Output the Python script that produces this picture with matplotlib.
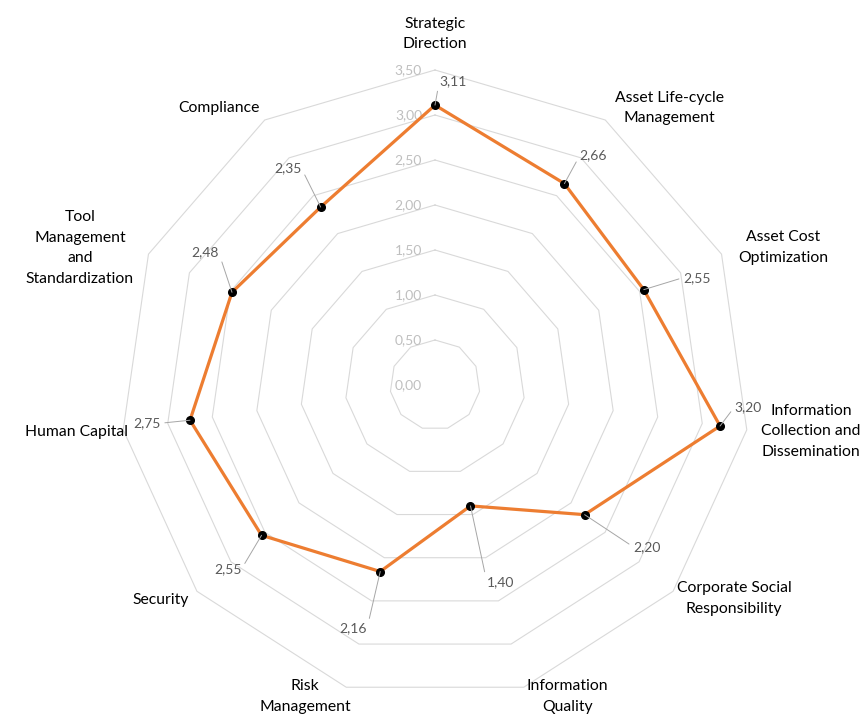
import numpy as np
import matplotlib
matplotlib.use("Agg")
import matplotlib.pyplot as plt

plt.rcParams['font.family'] = ['Lato', 'DejaVu Sans']

# ---- data ----
categories = ["Strategic\nDirection", "Asset Life-cycle\nManagement", "Asset Cost\nOptimization",
              "Information\nCollection and\nDissemination", "Corporate Social\nResponsibility",
              "Information\nQuality", "Risk\nManagement", "Security", "Human Capital",
              "Tool\nManagement\nand\nStandardization", "Compliance"]
values = [3.11, 2.66, 2.55, 3.20, 2.20, 1.40, 2.16, 2.55, 2.75, 2.48, 2.35]
ring_levels = [0.5, 1.0, 1.5, 2.0, 2.5, 3.0, 3.5]
tick_values = [0.0, 0.5, 1.0, 1.5, 2.0, 2.5, 3.0, 3.5]
tick_labels = ["0,00", "0,50", "1,00", "1,50", "2,00", "2,50", "3,00", "3,50"]

# ---- layout (category label placement: angle in degrees, radius in data units) ----
cat_label_pos = [(0.0, 3.90), (40.2, 4.03), (68.5, 4.16), (97.0, 4.21), (125.5, 4.08),
                 (156.9, 3.76), (202.6, 3.75), (231.9, 3.87), (262.5, 4.02), (291.1, 4.23),
                 (322.1, 3.90)]
# value label offsets in pixels (dx right, dy down)
val_offsets = [(18, -24), (29, -28), (53, -12), (28, -19), (62, 32), (30, 76),
               (-27, 57), (-34, 34), (-43, 3), (-27, -40), (-33, -39)]

W, H = 860, 717
fig = plt.figure(figsize=(W / 100, H / 100), dpi=100)
cx, cy, R = 435, 385, 315
ax = fig.add_axes([(cx - R) / W, (H - cy - R) / H, 2 * R / W, 2 * R / H], projection='polar')
ax.set_theta_zero_location('N')
ax.set_theta_direction(-1)
ax.set_ylim(0, 3.5)
ax.grid(False)
ax.spines['polar'].set_visible(False)
ax.set_xticks([])
ax.set_yticks([])
ax.patch.set_alpha(0)

n = len(categories)
angles = np.linspace(0, 2 * np.pi, n, endpoint=False)
closed = np.concatenate([angles, angles[:1]])

for lv in ring_levels:
    ax.plot(closed, [lv] * (n + 1), color='#D9D9D9', lw=0.8, zorder=1, clip_on=False)

# radial tick labels
for tv, tl in zip(tick_values, tick_labels):
    ax.annotate(tl, xy=(0, tv), xytext=(-13 * 0.72, 0), textcoords='offset points',
                ha='right', va='center', fontsize=10, color='#BFBFBF', zorder=2)

vals_closed = values + values[:1]
ax.plot(closed, vals_closed, color='#ED7D31', lw=2.3, zorder=4, clip_on=False)
ax.plot(angles, values, 'o', color='black', ms=5.5, zorder=5, clip_on=False)

# value labels
for a, v, (dx, dy) in zip(angles, values, val_offsets):
    relx = 0.0 if dx > 0 else 1.0
    ax.annotate(f"{v:.2f}".replace('.', ','), xy=(a, v), xytext=(dx * 0.72, -dy * 0.72),
                textcoords='offset points', ha='center', va='center', fontsize=10,
                color='#595959', zorder=6, annotation_clip=False,
                arrowprops=dict(arrowstyle='-', color='#A6A6A6', lw=0.7,
                                shrinkA=1, shrinkB=0, relpos=(relx, 0.5)))

# category labels
for lab, (deg, r) in zip(categories, cat_label_pos):
    ax.text(np.deg2rad(deg), r, lab, ha='center', va='center', fontsize=11.3,
            color='black', linespacing=1.6, clip_on=False)

fig.savefig('out.png', dpi=100)
